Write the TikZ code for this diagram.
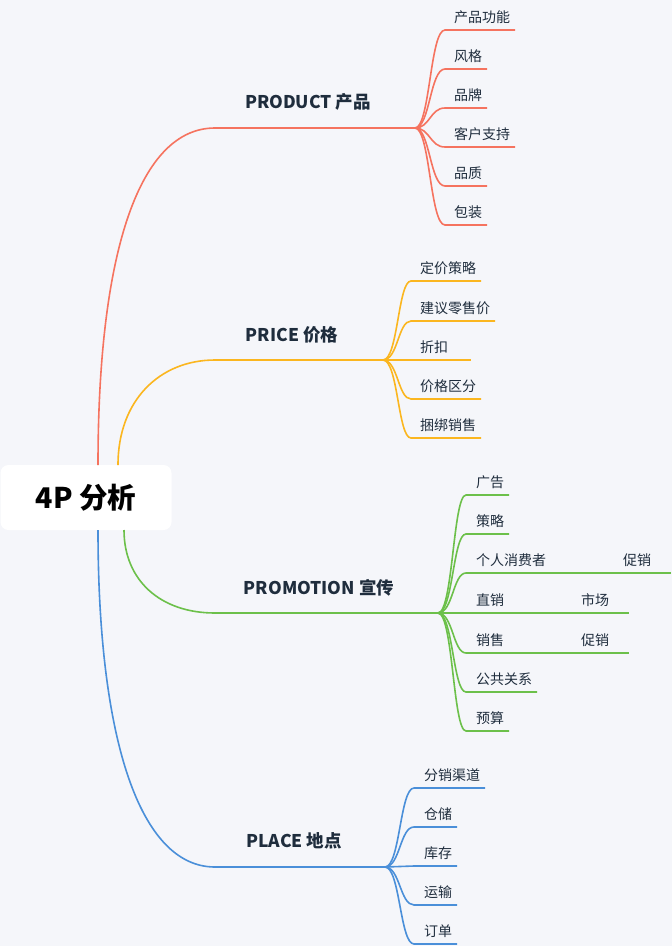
\documentclass[tikz,border=0pt]{standalone}
\usepackage{fontspec}
\setmainfont{Noto Sans CJK SC}
\begin{document}
\begin{tikzpicture}[x=1pt,y=-1pt]
\definecolor{bgc}{HTML}{F5F6FA}
\definecolor{cpro}{HTML}{F5735F}
\definecolor{cpri}{HTML}{FBB61F}
\definecolor{cprm}{HTML}{6CC04A}
\definecolor{cpla}{HTML}{4A8FD9}
\definecolor{txt}{HTML}{1F2D3D}
\tikzset{br/.style={line width=1.6pt},
 lbl/.style={font=\bfseries\fontsize{17.5}{20}\selectfont,text=txt},
 leaf/.style={font=\fontsize{14}{16}\selectfont,text=txt,anchor=west,inner sep=0pt}}
\fill[bgc] (0,0) rectangle (672,946);
\useasboundingbox (0,0) rectangle (672,946);
\node[fill=white,rounded corners=8pt,minimum width=171pt,minimum height=65pt,font=\bfseries\fontsize{28.5}{32}\selectfont] (root) at (86,497.5) {4P 分析};
% main branches
\coordinate (pA) at (415,128); \coordinate (rA) at (118,465);
\coordinate (pB) at (383,360);
\coordinate (pC) at (438,613);
\coordinate (pD) at (385,867);
\draw[br,cpro] (98,465) .. controls (98,250) and (140,128) .. (215,128) -- (pA);
\draw[br,cpri] (rA) .. controls (118,400) and (160,360) .. (215,360) -- (pB);
\draw[br,cprm] (124,530) .. controls (124,580) and (160,613) .. (215,613) -- (pC);
\draw[br,cpla] (98,530) .. controls (98,740) and (140,867) .. (215,867) -- (pD);
\node[lbl] (nA) at (308,102) {PRODUCT 产品};
\node[lbl] (nB) at (292,335) {PRICE 价格};
\node[lbl] (nC) at (319,588) {PROMOTION 宣传};
\node[lbl] (nD) at (294,841) {PLACE 地点};
% leaves
\foreach \t/\y/\e [count=\i] in {产品功能/30/515,风格/69/487,品牌/108/487,客户支持/147/515,品质/186/487,包装/225/487}{
 \draw[br,cpro] (pA) .. controls (430,128) and (430,\y) .. (445,\y) -- (\e,\y);
 \node[leaf] (a\i) at (454,\y-13) {\t};}
\foreach \t/\y/\e [count=\i] in {定价策略/281/481,建议零售价/321/495,折扣/360/471,价格区分/399/481,捆绑销售/438/481}{
 \draw[br,cpri] (pB) .. controls (398,360) and (398,\y) .. (411,\y) -- (\e,\y);
 \node[leaf] (b\i) at (420,\y-13) {\t};}
\foreach \t/\y/\e [count=\i] in {广告/495/509,策略/534/509,个人消费者/573/551,直销/613/509,销售/653/509,公共关系/692/537,预算/731/509}{
 \draw[br,cprm] (pC) .. controls (453,613) and (453,\y) .. (466,\y) -- (\e,\y);
 \node[leaf] (c\i) at (476,\y-13) {\t};}
\foreach \t/\y/\e [count=\i] in {分销渠道/788/485,仓储/827/457,库存/866/457,运输/905/457,订单/944/457}{
 \draw[br,cpla] (pD) .. controls (400,867) and (400,\y) .. (414,\y) -- (\e,\y);
 \node[leaf] (d\i) at (424,\y-13) {\t};}
% sub-leaves
\draw[br,cprm] (551,573) -- (671,573);
\node[leaf] (s1) at (623,560) {促销};
\draw[br,cprm] (509,613) -- (629,613);
\node[leaf] (s2) at (581,600) {市场};
\draw[br,cprm] (509,653) -- (629,653);
\node[leaf] (s3) at (581,640) {促销};
\end{tikzpicture}
\end{document}
